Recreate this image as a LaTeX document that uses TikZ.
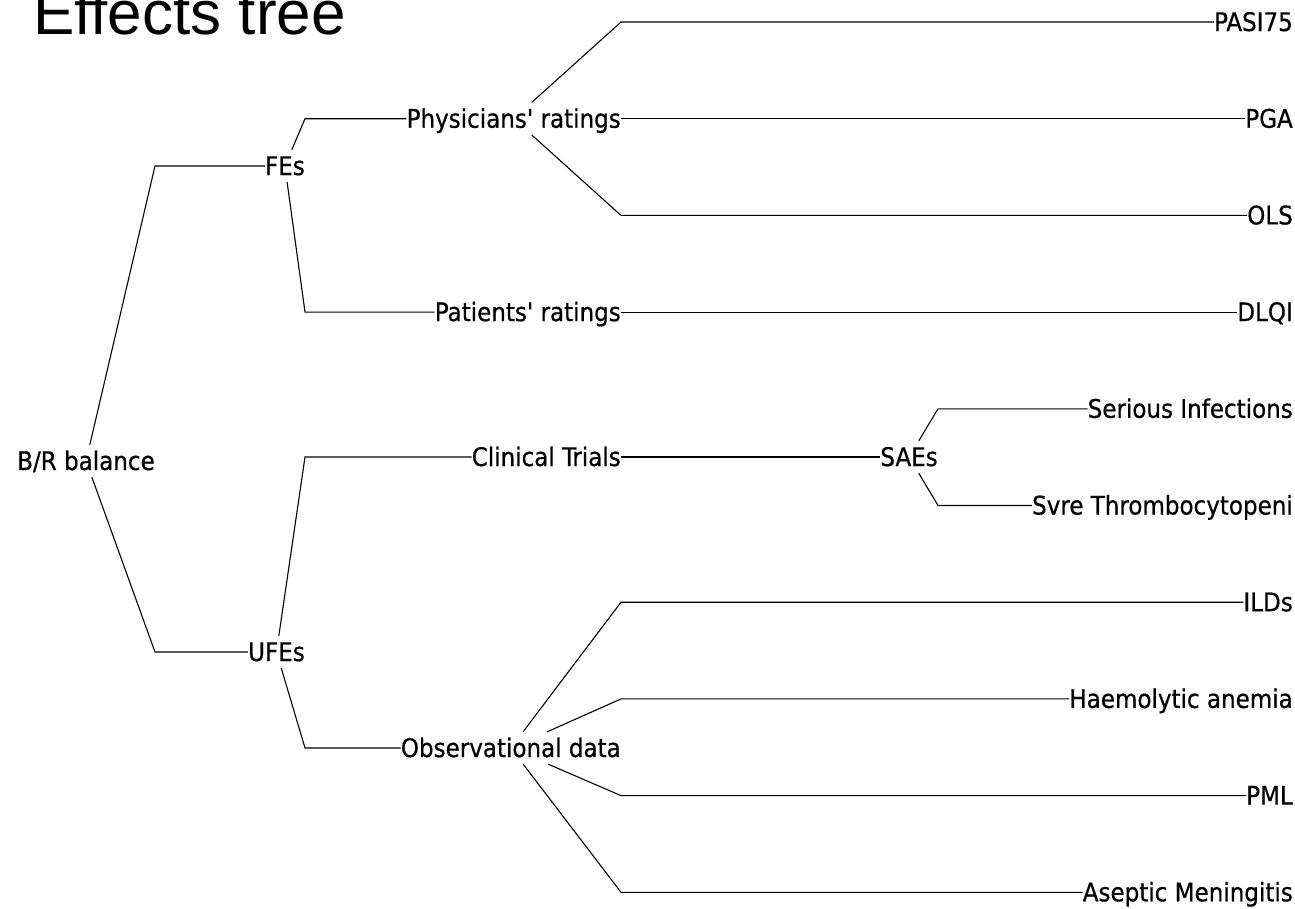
\documentclass[tikz,border=0pt]{standalone}
\usepackage{fontspec}
\setmainfont[FakeBold=0.6]{DejaVu Sans Condensed}
\newfontfamily\titlefont{Liberation Sans}

\tikzset{
  efnode/.style={anchor=east, inner xsep=0pt, inner ysep=7pt, text height=18pt, text depth=0pt, font=\fontsize{25.6}{30}\selectfont},
  efline/.style={line width=1.1pt, black},
}

\begin{document}
\begin{tikzpicture}[x=1pt,y=-1pt]
\useasboundingbox (0,0) rectangle (1295,908);
\node[anchor=base west, inner sep=0pt, font=\titlefont\fontsize{62}{70}\selectfont] (title) at (33,34) {Effects tree};
% root
\node[efnode] (br) at (155,461) {B/R balance};
% level 1
\node[efnode] (fes) at (305,166) {FEs};
\node[efnode] (ufes) at (305,652) {UFEs};
% level 2
\node[efnode] (phys) at (621,118.7) {Physicians\textquotesingle{} ratings};
\node[efnode] (pat) at (621,312.1) {Patients\textquotesingle{} ratings};
\node[efnode] (clin) at (621,457) {Clinical Trials};
\node[efnode] (obs) at (621,748) {Observational data};
% level 3
\node[efnode] (saes) at (938,457) {SAEs};
% leaves
\node[efnode] (pasi) at (1293,22) {PASI75};
\node[efnode] (pga) at (1293,118.7) {PGA};
\node[efnode] (ols) at (1293,215.4) {OLS};
\node[efnode] (dlqi) at (1293,312.1) {DLQI};
\node[efnode] (serinf) at (1293,408.8) {Serious Infections};
\node[efnode] (thromb) at (1293,505.5) {Svre Thrombocytopeni};
\node[efnode] (ilds) at (1293,602.2) {ILDs};
\node[efnode] (haem) at (1293,698.9) {Haemolytic anemia};
\node[efnode] (pml) at (1293,795.6) {PML};
\node[efnode] (asep) at (1293,892.3) {Aseptic Meningitis};

% B/R balance
\draw[efline] (br) -- (br.east |- fes) -- (fes.west);
\draw[efline] (br) -- (br.east |- ufes) -- (ufes.west);
% FEs
\draw[efline] (fes) -- (fes.east |- phys) -- (phys.west);
\draw[efline] (fes) -- (fes.east |- pat) -- (pat.west);
% UFEs
\draw[efline] (ufes) -- (ufes.east |- clin) -- (clin.west);
\draw[efline] (ufes) -- (ufes.east |- obs) -- (obs.west);
% physicians' ratings
\draw[efline] (phys) -- (phys.east |- pasi) -- (pasi.west);
\draw[efline] (phys.east) -- (pga.west);
\draw[efline] (phys) -- (phys.east |- ols) -- (ols.west);
% patients' ratings
\draw[efline] (pat.east) -- (dlqi.west);
% clinical trials
\draw[efline] (clin.east) -- (saes.west);
\draw[efline] (saes) -- (saes.east |- serinf) -- (serinf.west);
\draw[efline] (saes) -- (saes.east |- thromb) -- (thromb.west);
% observational data
\draw[efline] (obs) -- (obs.east |- ilds) -- (ilds.west);
\draw[efline] (obs) -- (obs.east |- haem) -- (haem.west);
\draw[efline] (obs) -- (obs.east |- pml) -- (pml.west);
\draw[efline] (obs) -- (obs.east |- asep) -- (asep.west);
\end{tikzpicture}
\end{document}
